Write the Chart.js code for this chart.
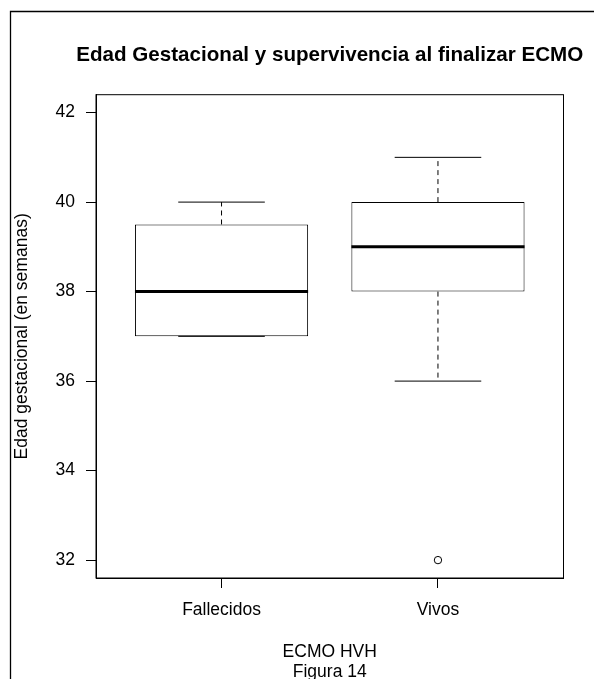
<!DOCTYPE html>
<html>
<head>
<meta charset="utf-8">
<script src="https://cdn.jsdelivr.net/npm/chart.js@4/dist/chart.umd.min.js"></script>
<style>
  html, body { margin: 0; padding: 0; background: #fff; }
  canvas { display: block; }
</style>
</head>
<body>
<canvas id="chart" width="594" height="679"></canvas>
<script>
// datos del boxplot (edad gestacional, semanas)
const categories = ['Fallecidos', 'Vivos'];
const whiskerLow = [37, 36];
const q1 = [37, 38];
const median = [38, 39];
const q3 = [39.5, 40];
const whiskerHigh = [40, 41];
const outliers = [[], [32]];
const yTicks = [32, 34, 36, 38, 40, 42];
const chartTitle = 'Edad Gestacional y supervivencia al finalizar ECMO';

const FONT = "'Liberation Sans', Arial, Helvetica, sans-serif";

// bigotes, tapas y medianas dibujados con las escalas del grafico
const boxExtras = {
  id: 'boxExtras',
  afterDatasetsDraw(chart) {
    const ctx = chart.ctx;
    const xs = chart.scales.x, ys = chart.scales.y;
    const meta = chart.getDatasetMeta(0);
    ctx.save();
    ctx.strokeStyle = '#000';
    categories.forEach((c, i) => {
      const x = xs.getPixelForValue(i + 1);
      const half = meta.data[i].width / 2;
      const cap = half / 2;
      // bigotes punteados
      ctx.lineWidth = 1;
      ctx.setLineDash([5, 4]);
      ctx.beginPath();
      ctx.moveTo(x, ys.getPixelForValue(q3[i]));
      ctx.lineTo(x, ys.getPixelForValue(whiskerHigh[i]));
      ctx.moveTo(x, ys.getPixelForValue(q1[i]));
      ctx.lineTo(x, ys.getPixelForValue(whiskerLow[i]));
      ctx.stroke();
      // tapas
      ctx.setLineDash([]);
      ctx.beginPath();
      [whiskerHigh[i], whiskerLow[i]].forEach(v => {
        const y = ys.getPixelForValue(v);
        ctx.moveTo(x - cap, y);
        ctx.lineTo(x + cap, y);
      });
      ctx.stroke();
      // mediana
      ctx.lineWidth = 3;
      ctx.beginPath();
      const ym = ys.getPixelForValue(median[i]);
      ctx.moveTo(x - half, ym);
      ctx.lineTo(x + half, ym);
      ctx.stroke();
    });
    // marco del area del grafico
    const a = chart.chartArea;
    ctx.lineWidth = 1;
    ctx.strokeRect(a.left, a.top, a.right - a.left, a.bottom - a.top);
    ctx.restore();
  },
  beforeDraw(chart) {
    const ctx = chart.ctx;
    ctx.save();
    // marco exterior
    ctx.strokeStyle = '#000';
    ctx.lineWidth = 1.3;
    ctx.beginPath();
    ctx.moveTo(10.5, chart.height);
    ctx.lineTo(10.5, 11.5);
    ctx.lineTo(chart.width, 11.5);
    ctx.stroke();
    // titulo centrado sobre el area del grafico (como en R)
    const a = chart.chartArea;
    ctx.fillStyle = '#000';
    ctx.font = 'bold 20.6px ' + FONT;
    ctx.textAlign = 'center';
    ctx.textBaseline = 'middle';
    ctx.fillText(chartTitle, (a.left + a.right) / 2, 55);
    ctx.restore();
  }
};

const boxData = categories.map((c, i) => ({ x: i + 1, y: [q1[i], q3[i]] }));
const outData = [];
outliers.forEach((arr, i) => arr.forEach(v => outData.push({ x: i + 1, y: v })));

new Chart(document.getElementById('chart'), {
  type: 'bar',
  data: {
    datasets: [{
      data: boxData,
      backgroundColor: '#fff',
      borderColor: '#000',
      borderWidth: 1,
      borderSkipped: false,
      categoryPercentage: 0.8,
      barPercentage: 1.0,
      grouped: false
    }, {
      type: 'scatter',
      data: outData,
      pointRadius: 3.7,
      pointBackgroundColor: 'rgba(0,0,0,0)',
      pointBorderColor: '#000',
      pointBorderWidth: 1
    }]
  },
  options: {
    responsive: false,
    animation: false,
    devicePixelRatio: 1,
    layout: { padding: { left: 0, right: 30.5, top: 94.7, bottom: 0 } },
    plugins: {
      legend: { display: false },
      tooltip: { enabled: false },
      title: { display: false }
    },
    scales: {
      x: {
        type: 'linear',
        min: 0.42,
        max: 2.58,
        offset: false,
        afterBuildTicks: (scale) => { scale.ticks = categories.map((c, i) => ({ value: i + 1 })); },
        afterFit: (scale) => { scale.height = 101; },
        ticks: {
          callback: (v) => categories[v - 1],
          color: '#000',
          font: { family: FONT, size: 17.5 },
          padding: 12,
          maxRotation: 0
        },
        grid: { offset: false, drawOnChartArea: false, tickLength: 10, color: '#000', tickWidth: 1 },
        border: { color: '#000', width: 1 },
        title: {
          display: true,
          text: ['ECMO HVH', 'Figura 14'],
          color: '#000',
          font: { family: FONT, size: 17.5, lineHeight: 20 / 17.5 },
          padding: { top: 0, bottom: -3.5 }
        }
      },
      y: {
        min: 31.6,
        max: 42.4,
        afterBuildTicks: (scale) => { scale.ticks = yTicks.map(v => ({ value: v })); },
        afterFit: (scale) => { scale.width = 96; },
        ticks: {
          color: '#000',
          font: { family: FONT, size: 17.5 },
          padding: 11
        },
        grid: { drawOnChartArea: false, tickLength: 10, color: '#000', tickWidth: 1 },
        border: { color: '#000', width: 1 },
        title: {
          display: true,
          text: 'Edad gestacional (en semanas)',
          color: '#000',
          font: { family: FONT, size: 17.5, lineHeight: 1.2 },
          padding: { top: 12, bottom: 0 }
        }
      }
    }
  },
  plugins: [boxExtras]
});
</script>
</body>
</html>
